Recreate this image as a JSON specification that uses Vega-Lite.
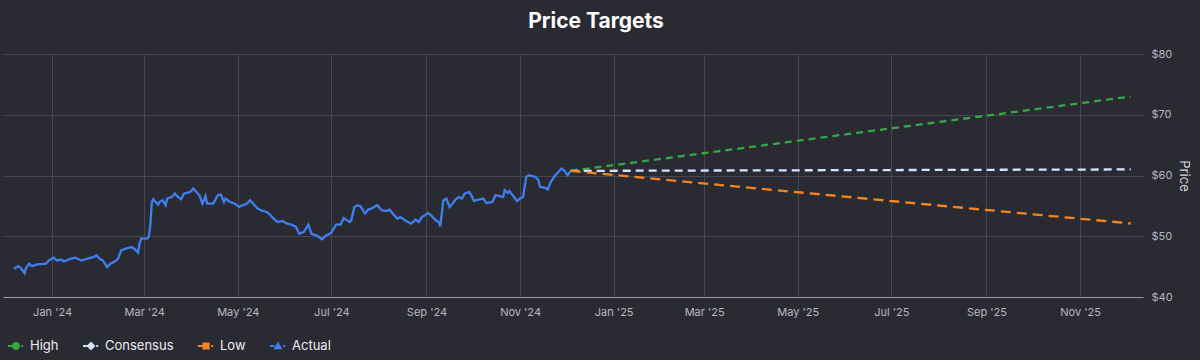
{
  "$schema": "https://vega.github.io/schema/vega-lite/v6.json",
  "width": 1200,
  "height": 360,
  "autosize": {"type": "fit", "contains": "padding"},
  "padding": {"top": 11, "left": 3, "right": 10, "bottom": 2},
  "background": "#2a2a33",
  "title": {"text": "Price Targets", "anchor": "middle", "frame": "bounds", "fontSize": 21, "font": "Inter", "fontWeight": "bold", "color": "#ffffff", "offset": 16},
  "config": {
    "view": {"stroke": null},
    "font": "Inter"
  },
  "data": {
    "values": [
      {"date": "2023-12-07", "price": 44.65, "series": "Actual"},
      {"date": "2023-12-10", "price": 45.08, "series": "Actual"},
      {"date": "2023-12-12", "price": 44.65, "series": "Actual"},
      {"date": "2023-12-14", "price": 43.93, "series": "Actual"},
      {"date": "2023-12-15", "price": 44.75, "series": "Actual"},
      {"date": "2023-12-17", "price": 45.48, "series": "Actual"},
      {"date": "2023-12-19", "price": 45.08, "series": "Actual"},
      {"date": "2023-12-22", "price": 45.36, "series": "Actual"},
      {"date": "2023-12-28", "price": 45.48, "series": "Actual"},
      {"date": "2023-12-30", "price": 46.02, "series": "Actual"},
      {"date": "2024-01-02", "price": 46.47, "series": "Actual"},
      {"date": "2024-01-04", "price": 46.02, "series": "Actual"},
      {"date": "2024-01-07", "price": 46.14, "series": "Actual"},
      {"date": "2024-01-09", "price": 45.86, "series": "Actual"},
      {"date": "2024-01-13", "price": 46.30, "series": "Actual"},
      {"date": "2024-01-16", "price": 46.47, "series": "Actual"},
      {"date": "2024-01-20", "price": 46.02, "series": "Actual"},
      {"date": "2024-01-24", "price": 46.30, "series": "Actual"},
      {"date": "2024-01-28", "price": 46.57, "series": "Actual"},
      {"date": "2024-01-30", "price": 46.85, "series": "Actual"},
      {"date": "2024-02-01", "price": 46.30, "series": "Actual"},
      {"date": "2024-02-03", "price": 46.02, "series": "Actual"},
      {"date": "2024-02-06", "price": 44.92, "series": "Actual"},
      {"date": "2024-02-08", "price": 45.48, "series": "Actual"},
      {"date": "2024-02-11", "price": 45.86, "series": "Actual"},
      {"date": "2024-02-13", "price": 46.30, "series": "Actual"},
      {"date": "2024-02-15", "price": 47.67, "series": "Actual"},
      {"date": "2024-02-19", "price": 48.05, "series": "Actual"},
      {"date": "2024-02-22", "price": 48.22, "series": "Actual"},
      {"date": "2024-02-24", "price": 47.84, "series": "Actual"},
      {"date": "2024-02-26", "price": 47.29, "series": "Actual"},
      {"date": "2024-02-27", "price": 48.78, "series": "Actual"},
      {"date": "2024-02-28", "price": 49.60, "series": "Actual"},
      {"date": "2024-03-03", "price": 49.60, "series": "Actual"},
      {"date": "2024-03-04", "price": 49.87, "series": "Actual"},
      {"date": "2024-03-05", "price": 51.80, "series": "Actual"},
      {"date": "2024-03-06", "price": 55.64, "series": "Actual"},
      {"date": "2024-03-07", "price": 56.09, "series": "Actual"},
      {"date": "2024-03-10", "price": 55.21, "series": "Actual"},
      {"date": "2024-03-11", "price": 55.64, "series": "Actual"},
      {"date": "2024-03-13", "price": 55.92, "series": "Actual"},
      {"date": "2024-03-15", "price": 55.10, "series": "Actual"},
      {"date": "2024-03-16", "price": 56.20, "series": "Actual"},
      {"date": "2024-03-19", "price": 56.47, "series": "Actual"},
      {"date": "2024-03-21", "price": 57.03, "series": "Actual"},
      {"date": "2024-03-23", "price": 56.47, "series": "Actual"},
      {"date": "2024-03-25", "price": 56.09, "series": "Actual"},
      {"date": "2024-03-27", "price": 57.03, "series": "Actual"},
      {"date": "2024-03-31", "price": 57.29, "series": "Actual"},
      {"date": "2024-04-02", "price": 57.85, "series": "Actual"},
      {"date": "2024-04-04", "price": 57.29, "series": "Actual"},
      {"date": "2024-04-06", "price": 56.75, "series": "Actual"},
      {"date": "2024-04-08", "price": 55.38, "series": "Actual"},
      {"date": "2024-04-10", "price": 56.63, "series": "Actual"},
      {"date": "2024-04-11", "price": 55.38, "series": "Actual"},
      {"date": "2024-04-15", "price": 55.38, "series": "Actual"},
      {"date": "2024-04-18", "price": 56.75, "series": "Actual"},
      {"date": "2024-04-20", "price": 56.86, "series": "Actual"},
      {"date": "2024-04-22", "price": 55.64, "series": "Actual"},
      {"date": "2024-04-23", "price": 56.20, "series": "Actual"},
      {"date": "2024-04-26", "price": 55.64, "series": "Actual"},
      {"date": "2024-04-29", "price": 55.38, "series": "Actual"},
      {"date": "2024-05-02", "price": 54.82, "series": "Actual"},
      {"date": "2024-05-04", "price": 55.10, "series": "Actual"},
      {"date": "2024-05-07", "price": 55.38, "series": "Actual"},
      {"date": "2024-05-09", "price": 55.92, "series": "Actual"},
      {"date": "2024-05-11", "price": 55.38, "series": "Actual"},
      {"date": "2024-05-14", "price": 54.55, "series": "Actual"},
      {"date": "2024-05-16", "price": 54.27, "series": "Actual"},
      {"date": "2024-05-20", "price": 53.99, "series": "Actual"},
      {"date": "2024-05-22", "price": 53.56, "series": "Actual"},
      {"date": "2024-05-24", "price": 53.00, "series": "Actual"},
      {"date": "2024-05-27", "price": 52.34, "series": "Actual"},
      {"date": "2024-05-30", "price": 52.51, "series": "Actual"},
      {"date": "2024-06-02", "price": 52.08, "series": "Actual"},
      {"date": "2024-06-05", "price": 51.91, "series": "Actual"},
      {"date": "2024-06-08", "price": 51.52, "series": "Actual"},
      {"date": "2024-06-10", "price": 50.43, "series": "Actual"},
      {"date": "2024-06-13", "price": 50.69, "series": "Actual"},
      {"date": "2024-06-16", "price": 51.91, "series": "Actual"},
      {"date": "2024-06-18", "price": 50.43, "series": "Actual"},
      {"date": "2024-06-22", "price": 50.03, "series": "Actual"},
      {"date": "2024-06-25", "price": 49.49, "series": "Actual"},
      {"date": "2024-06-27", "price": 50.03, "series": "Actual"},
      {"date": "2024-07-01", "price": 50.59, "series": "Actual"},
      {"date": "2024-07-04", "price": 51.91, "series": "Actual"},
      {"date": "2024-07-07", "price": 51.91, "series": "Actual"},
      {"date": "2024-07-09", "price": 53.00, "series": "Actual"},
      {"date": "2024-07-13", "price": 52.34, "series": "Actual"},
      {"date": "2024-07-14", "price": 52.62, "series": "Actual"},
      {"date": "2024-07-16", "price": 54.82, "series": "Actual"},
      {"date": "2024-07-18", "price": 55.10, "series": "Actual"},
      {"date": "2024-07-20", "price": 54.93, "series": "Actual"},
      {"date": "2024-07-23", "price": 53.73, "series": "Actual"},
      {"date": "2024-07-25", "price": 54.39, "series": "Actual"},
      {"date": "2024-07-27", "price": 54.55, "series": "Actual"},
      {"date": "2024-07-31", "price": 55.10, "series": "Actual"},
      {"date": "2024-08-03", "price": 54.27, "series": "Actual"},
      {"date": "2024-08-06", "price": 54.16, "series": "Actual"},
      {"date": "2024-08-08", "price": 54.39, "series": "Actual"},
      {"date": "2024-08-10", "price": 53.73, "series": "Actual"},
      {"date": "2024-08-13", "price": 52.90, "series": "Actual"},
      {"date": "2024-08-15", "price": 53.17, "series": "Actual"},
      {"date": "2024-08-18", "price": 52.62, "series": "Actual"},
      {"date": "2024-08-20", "price": 52.34, "series": "Actual"},
      {"date": "2024-08-22", "price": 52.08, "series": "Actual"},
      {"date": "2024-08-25", "price": 52.74, "series": "Actual"},
      {"date": "2024-08-27", "price": 52.34, "series": "Actual"},
      {"date": "2024-08-29", "price": 53.17, "series": "Actual"},
      {"date": "2024-08-31", "price": 53.45, "series": "Actual"},
      {"date": "2024-09-02", "price": 53.83, "series": "Actual"},
      {"date": "2024-09-04", "price": 53.45, "series": "Actual"},
      {"date": "2024-09-07", "price": 52.62, "series": "Actual"},
      {"date": "2024-09-09", "price": 52.34, "series": "Actual"},
      {"date": "2024-09-10", "price": 51.63, "series": "Actual"},
      {"date": "2024-09-12", "price": 55.92, "series": "Actual"},
      {"date": "2024-09-14", "price": 56.20, "series": "Actual"},
      {"date": "2024-09-16", "price": 54.82, "series": "Actual"},
      {"date": "2024-09-18", "price": 55.38, "series": "Actual"},
      {"date": "2024-09-20", "price": 56.04, "series": "Actual"},
      {"date": "2024-09-22", "price": 56.47, "series": "Actual"},
      {"date": "2024-09-24", "price": 56.20, "series": "Actual"},
      {"date": "2024-09-26", "price": 57.03, "series": "Actual"},
      {"date": "2024-09-29", "price": 57.29, "series": "Actual"},
      {"date": "2024-10-02", "price": 55.81, "series": "Actual"},
      {"date": "2024-10-05", "price": 56.04, "series": "Actual"},
      {"date": "2024-10-08", "price": 56.20, "series": "Actual"},
      {"date": "2024-10-10", "price": 55.48, "series": "Actual"},
      {"date": "2024-10-14", "price": 55.64, "series": "Actual"},
      {"date": "2024-10-16", "price": 56.75, "series": "Actual"},
      {"date": "2024-10-19", "price": 56.58, "series": "Actual"},
      {"date": "2024-10-21", "price": 56.47, "series": "Actual"},
      {"date": "2024-10-22", "price": 57.57, "series": "Actual"},
      {"date": "2024-10-24", "price": 57.13, "series": "Actual"},
      {"date": "2024-10-25", "price": 57.46, "series": "Actual"},
      {"date": "2024-10-28", "price": 56.47, "series": "Actual"},
      {"date": "2024-10-30", "price": 55.81, "series": "Actual"},
      {"date": "2024-11-01", "price": 56.20, "series": "Actual"},
      {"date": "2024-11-03", "price": 56.47, "series": "Actual"},
      {"date": "2024-11-05", "price": 59.77, "series": "Actual"},
      {"date": "2024-11-07", "price": 60.05, "series": "Actual"},
      {"date": "2024-11-11", "price": 59.77, "series": "Actual"},
      {"date": "2024-11-13", "price": 59.22, "series": "Actual"},
      {"date": "2024-11-14", "price": 58.12, "series": "Actual"},
      {"date": "2024-11-17", "price": 58.02, "series": "Actual"},
      {"date": "2024-11-19", "price": 57.69, "series": "Actual"},
      {"date": "2024-11-21", "price": 58.94, "series": "Actual"},
      {"date": "2024-11-24", "price": 60.05, "series": "Actual"},
      {"date": "2024-11-26", "price": 60.59, "series": "Actual"},
      {"date": "2024-11-28", "price": 61.16, "series": "Actual"},
      {"date": "2024-11-30", "price": 60.76, "series": "Actual"},
      {"date": "2024-12-02", "price": 60.05, "series": "Actual"},
      {"date": "2024-12-04", "price": 60.76, "series": "Actual"},
      {"date": "2024-12-04", "price": 60.76, "series": "High"},
      {"date": "2025-12-04", "price": 73.0, "series": "High"},
      {"date": "2024-12-04", "price": 60.76, "series": "Consensus"},
      {"date": "2025-12-04", "price": 61.0, "series": "Consensus"},
      {"date": "2024-12-04", "price": 60.76, "series": "Low"},
      {"date": "2025-12-04", "price": 52.1, "series": "Low"}
    ]
  },
  "encoding": {
    "x": {
      "field": "date", "type": "temporal",
      "scale": {"type": "utc", "domain": [{"year": 2023, "month": 11, "date": 30, "utc": true}, {"year": 2025, "month": 12, "date": 12, "utc": true}]},
      "axis": {
        "title": null, "format": "%b '%y", "tickCount": {"interval": "month", "step": 2},
        "grid": true, "gridColor": "#474751", "gridWidth": 1,
        "domainColor": "#9a9aa4", "domainWidth": 1, "ticks": false,
        "labelColor": "#b8b8c0", "labelFontSize": 11, "labelPadding": 9.5, "labelFont": "Inter"
      }
    },
    "y": {
      "field": "price", "type": "quantitative",
      "scale": {"domain": [40, 80], "nice": false, "zero": false},
      "axis": {
        "orient": "right", "values": [40, 50, 60, 70, 80], "labelExpr": "'$' + datum.value",
        "grid": true, "gridColor": "#474751", "domain": false, "ticks": false,
        "labelColor": "#b8b8c0", "labelFontSize": 11, "labelPadding": 8, "labelFont": "Inter",
        "title": "Price", "titleAngle": 90, "titleColor": "#d4d4dc", "titleFontWeight": "normal", "titleFontSize": 13, "titleFont": "Inter", "titlePadding": 4
      }
    },
    "color": {
      "field": "series", "type": "nominal",
      "scale": {"domain": ["High", "Consensus", "Low", "Actual"], "range": ["#34a845", "#d2e2ff", "#f5861f", "#3f80f0"]},
      "legend": {
        "title": null, "orient": "bottom", "direction": "horizontal",
        "labelColor": "#ececf0", "labelFontSize": 13, "labelFont": "Inter", "labelOffset": 6,
        "symbolSize": 256, "symbolStrokeWidth": 0, "columnPadding": 24, "offset": 15, "padding": 5
      }
    }
  },
  "layer": [
    {
      "mark": {"type": "line", "strokeWidth": 2.3},
      "encoding": {
        "strokeDash": {
          "field": "series", "type": "nominal",
          "scale": {"domain": ["High", "Consensus", "Low", "Actual"], "range": [[7, 5], [8, 5], [10, 6], [1, 0]]},
          "legend": null
        }
      }
    },
    {
      "transform": [{"filter": "false"}],
      "mark": {"type": "point", "filled": true, "opacity": 1},
      "encoding": {
        "shape": {
          "field": "series", "type": "nominal",
          "scale": {
            "domain": ["High", "Consensus", "Low", "Actual"],
            "range": [
              "M-1,-0.13H-0.45V0.13H-1Z M0.5,0A0.5,0.5 0 1 1 -0.5,0A0.5,0.5 0 1 1 0.5,0Z M0.65,-0.13H0.9V0.13H0.65Z",
              "M-1,-0.13H-0.45V0.13H-1Z M0,-0.55L0.55,0L0,0.55L-0.55,0Z M0.65,-0.13H0.9V0.13H0.65Z",
              "M-1,-0.13H-0.45V0.13H-1Z M-0.45,-0.45H0.45V0.45H-0.45Z M0.65,-0.13H0.9V0.13H0.65Z",
              "M-1,-0.13H-0.45V0.13H-1Z M0,-0.55L0.55,0.4H-0.55Z M0.65,-0.13H0.9V0.13H0.65Z"
            ]
          },
          "legend": {
            "title": null, "orient": "bottom", "direction": "horizontal",
            "labelColor": "#ececf0", "labelFontSize": 13, "labelFont": "Inter", "labelOffset": 6,
            "symbolSize": 256, "symbolStrokeWidth": 0, "columnPadding": 24, "offset": 15, "padding": 5
          }
        }
      }
    }
  ]
}
